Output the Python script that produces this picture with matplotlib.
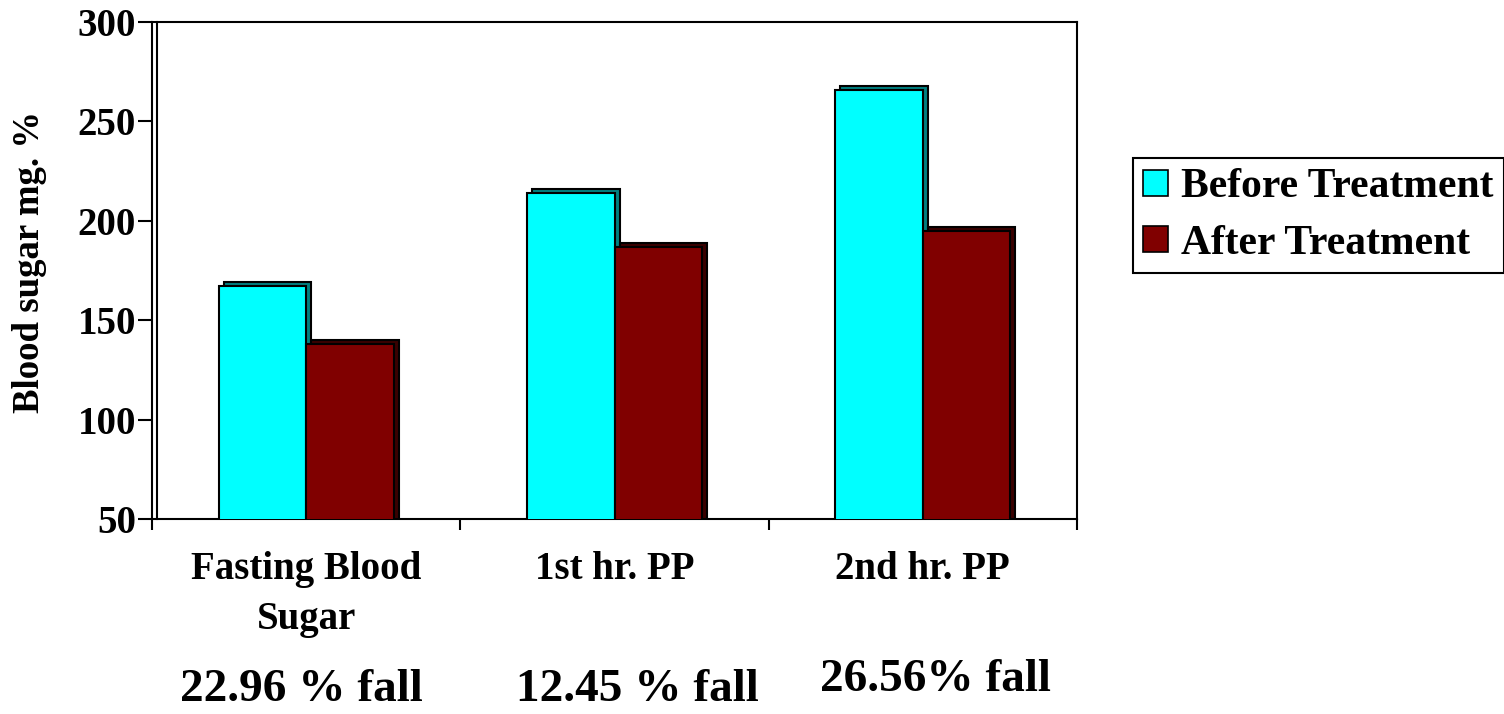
import matplotlib
matplotlib.use("Agg")
import matplotlib.pyplot as plt
import matplotlib.transforms as mtransforms
from matplotlib.patches import Rectangle, Patch
import numpy as np

categories = ["Fasting Blood\nSugar", "1st hr. PP", "2nd hr. PP"]
before = [167, 214, 266]
after = [138, 187, 195]
series_names = ["Before Treatment", "After Treatment"]
fall_labels = ["22.96 % fall", "12.45 % fall", "26.56% fall"]
yticks = [50, 100, 150, 200, 250, 300]

plt.rcParams['font.family'] = ['Liberation Serif', 'DejaVu Serif']
plt.rcParams['font.weight'] = 'bold'

fig = plt.figure(figsize=(15.04, 7.14), dpi=100)
ax = fig.add_axes([0.1011, 0.2731, 0.6150, 0.6961])

front_cols = ["#00FFFF", "#800000"]
side_cols = ["#008080", "#3A0000"]
w = 0.284
x = np.arange(len(categories))
dx_px, dy_px = 5, 4
off = mtransforms.offset_copy(ax.transData, fig=fig, x=dx_px, y=dy_px, units='dots')

for k, vals in enumerate([before, after]):
    xs = x + (k - 0.5) * w
    for xi, v in zip(xs, vals):
        back = Rectangle((xi - w / 2, 0), w, v, transform=off,
                         facecolor=side_cols[k], edgecolor='black', lw=1.5, zorder=2)
        ax.add_patch(back)
    ax.bar(xs, vals, width=w, color=front_cols[k], edgecolor='black', lw=1.5, zorder=3)

ax.set_xlim(-0.5, 2.5)
ax.set_ylim(50, 300)
ax.set_yticks(yticks)
ax.set_yticklabels([str(t) for t in yticks], fontsize=28, fontweight='bold')
ax.tick_params(axis='y', direction='out', length=10, width=1.5, pad=1.5)
ax.set_xticks([-0.5, 0.5, 1.5, 2.5])
ax.set_xticklabels([])
ax.tick_params(axis='x', direction='out', length=8, width=1.5)
for s in ax.spines.values():
    s.set_linewidth(1.5)

# category labels
for xi, c in zip(x, categories):
    ax.text(xi, -0.065, c, transform=ax.get_xaxis_transform(), ha='center', va='top',
            fontsize=28, fontweight='bold', linespacing=1.45)

# back wall line on left
wall = mtransforms.offset_copy(ax.transAxes, fig=fig, x=5, y=0, units='dots')
ax.plot([0, 0], [0, 1], transform=wall, color='black', lw=1.5, clip_on=False, zorder=4)

ax.set_ylabel("Blood sugar mg. %", fontsize=26.5, fontweight='bold')
ax.yaxis.set_label_coords(-0.114, 0.518)

# fall labels
fall_x = [301 / 1504, 637 / 1504, 935 / 1504]
fall_y = [1 - 690 / 714, 1 - 690 / 714, 1 - 680 / 714]
for fx, fy, t in zip(fall_x, fall_y, fall_labels):
    fig.text(fx, fy, t, ha='center', va='center', fontsize=34, fontweight='bold')

handles = [Patch(facecolor=front_cols[i], edgecolor='black', lw=1.2) for i in range(2)]
leg = fig.legend(handles, series_names, loc='upper left', bbox_to_anchor=(0.7533, 0.7787),
                 fontsize=30, frameon=True, fancybox=False, framealpha=1,
                 handlelength=0.6, handleheight=0.6, handletextpad=0.3,
                 borderpad=0.25, labelspacing=0.44, borderaxespad=0)
leg.get_frame().set_edgecolor('black')
leg.get_frame().set_linewidth(1.5)
for t in leg.get_texts():
    t.set_fontweight('bold')

fig.savefig("out.png", dpi=100)
